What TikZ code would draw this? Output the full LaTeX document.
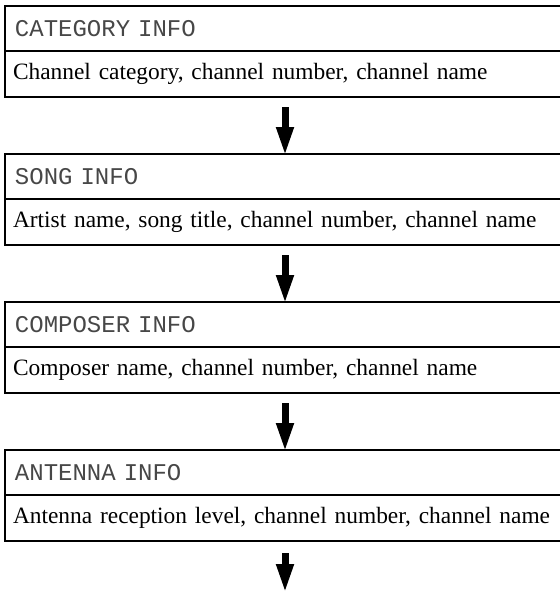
\documentclass[tikz,border=0pt]{standalone}
\usepackage{fontspec}
\setmainfont{Liberation Serif}
\setmonofont{Liberation Mono}
\usetikzlibrary{positioning,arrows.meta}
\begin{document}
\begin{tikzpicture}[x=1pt, y=1pt,
    infobox/.style={draw, line width=2.4pt, outer sep=0pt, rectangle,
      minimum width=560pt, align=left},
    headbox/.style={infobox, minimum height=45pt, inner xsep=10pt,
      text width=540pt, text=black!72, font=\ttfamily\fontsize{24}{27}\selectfont},
    textbox/.style={infobox, minimum height=46pt, inner xsep=8pt,
      text width=544pt, font=\fontsize{23.4}{26}\selectfont},
    flowarrow/.style={line width=7pt, -{Triangle[width=16pt,length=29pt]}}]
  \clip (0,0) rectangle (560,-595);
  % info screens
  \node[headbox] (cathead) at (285,-28.5) {CATEGORY INFO};
  \node[textbox, below=0pt of cathead] (catbody) {Channel category, channel number, channel name};
  \node[headbox, below=57pt of catbody] (songhead) {SONG INFO};
  \node[textbox, below=0pt of songhead] (songbody) {Artist name, song title, channel number, channel name};
  \node[headbox, below=57pt of songbody] (comphead) {COMPOSER INFO};
  \node[textbox, below=0pt of comphead] (compbody) {Composer name, channel number, channel name};
  \node[headbox, below=57pt of compbody] (anthead) {ANTENNA INFO};
  \node[textbox, below=0pt of anthead] (antbody) {Antenna reception level, channel number, channel name};
  \coordinate (loopend) at (285,-593);
  % arrows
  \draw[flowarrow] ([yshift=-10pt]catbody.south) -- ([yshift=-2pt]songhead.north);
  \draw[flowarrow] ([yshift=-10pt]songbody.south) -- ([yshift=-2pt]comphead.north);
  \draw[flowarrow] ([yshift=-10pt]compbody.south) -- ([yshift=-2pt]anthead.north);
  \draw[flowarrow] ([yshift=-12pt]antbody.south) -- (loopend);
\end{tikzpicture}
\end{document}
